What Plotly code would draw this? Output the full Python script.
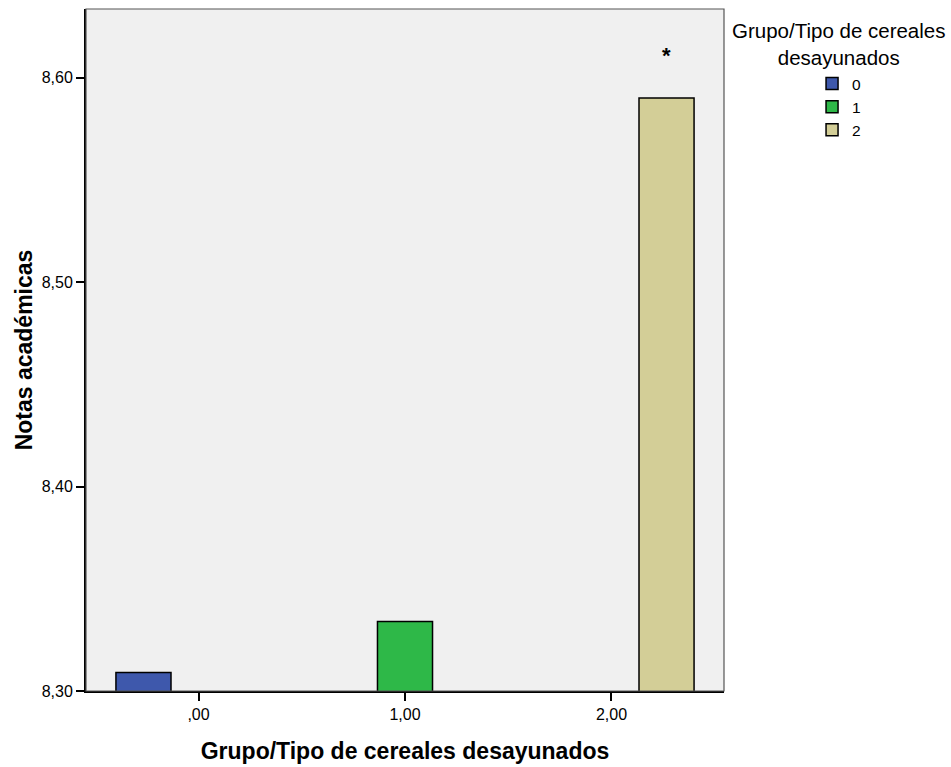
import plotly.graph_objects as go

# Mean academic scores by breakfast-cereal group
categories = [",00", "1,00", "2,00"]
group_names = ["0", "1", "2"]
means = [8.309, 8.334, 8.590]
colors = ["#3E58AC", "#2EB848", "#D3CE97"]
y_ticks = [8.30, 8.40, 8.50, 8.60]

font_family = "Liberation Sans, Arial, sans-serif"
bar_gap = 0.2
bar_width = (1 - bar_gap) / len(group_names)

fig = go.Figure()
for i, name in enumerate(group_names):
    # each group only has a mean in its own category
    y_vals = [means[i] if j == i else None for j in range(len(categories))]
    fig.add_trace(go.Bar(
        x=categories,
        y=y_vals,
        name=name,
        offsetgroup=str(i),
        marker=dict(color=colors[i], line=dict(color="black", width=1.5)),
    ))

# significance marker above the highest group
fig.add_annotation(
    x=len(categories) - 1 + bar_width, y=means[2] + 0.021,
    xref="x", yref="y", text="<b>*</b>", showarrow=False,
    font=dict(size=22, color="black", family=font_family),
)

# legend heading, centred over the legend entries
fig.add_annotation(
    x=1.18, y=0.948, xref="paper", yref="paper", xanchor="center", yanchor="middle",
    text="Grupo/Tipo de cereales<br>desayunados",
    showarrow=False, font=dict(size=20.5, color="black", family=font_family),
)

fig.update_layout(
    width=951, height=767,
    margin=dict(l=86, r=227, t=9, b=76),
    barmode="group", bargap=bar_gap, bargroupgap=0,
    plot_bgcolor="#F0F0F0", paper_bgcolor="white",
    separators=",.",
    font=dict(family=font_family, size=16, color="black"),
    showlegend=True,
    legend=dict(x=1.138, y=0.915, xanchor="left", yanchor="top",
                font=dict(size=15.5), bgcolor="rgba(0,0,0,0)", tracegroupgap=0),
    xaxis=dict(
        type="category", categoryorder="array", categoryarray=categories,
        range=[-0.545, len(categories) - 1 + 0.545],
        automargin=False,
        showline=True, linecolor="black", linewidth=2, mirror=False,
        ticks="outside", ticklen=8, tickwidth=1.5, tickcolor="black",
        showgrid=False, zeroline=False,
        title=dict(text="<b>Grupo/Tipo de cereales desayunados</b>",
                   font=dict(size=23), standoff=21),
        tickfont=dict(size=16),
    ),
    yaxis=dict(
        range=[8.30, 8.6335],
        automargin=False,
        tickvals=y_ticks, tickformat=".2f",
        showline=True, linecolor="black", linewidth=2, mirror=False,
        ticks="outside", ticklen=8, tickwidth=1.5, tickcolor="black",
        showgrid=False, zeroline=False,
        title=dict(text="<b>Notas académicas</b>", font=dict(size=23), standoff=3),
        tickfont=dict(size=16),
    ),
)

# thin frame around the plotting area
fig.add_shape(type="rect", xref="paper", yref="paper", x0=0, y0=0, x1=1, y1=1,
              line=dict(color="#555555", width=1.2), layer="above")

fig.write_html("out.html")
